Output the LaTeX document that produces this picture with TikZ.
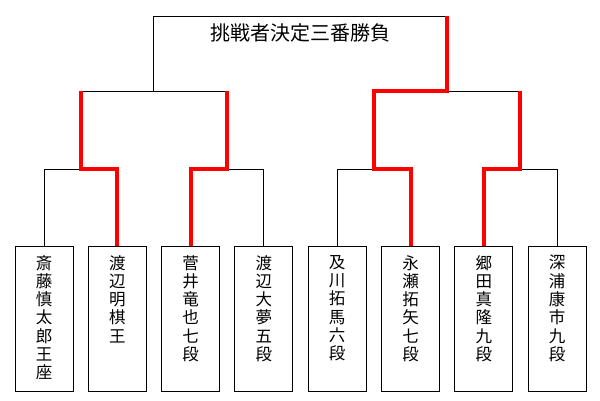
\documentclass[tikz,border=0pt]{standalone}
\usepackage{fontspec}
\setmainfont{Noto Sans CJK JP}
\usepackage{tikz}
\usetikzlibrary{positioning,calc}

\begin{document}
\begin{tikzpicture}[x=1pt, y=1pt,
player/.style={draw, line width=1pt, minimum width=58pt, minimum height=145pt, inner sep=0pt, anchor=north},
namecol/.style={anchor=north, align=center, inner sep=0pt, yshift=-9pt, font=\fontsize{16.5pt}{18.3pt}\selectfont},
bracket/.style={draw=black, line width=1pt},
win/.style={draw=red, line width=4pt}
]
\useasboundingbox (0,0) rectangle (600,-400);
\node[font=\fontsize{20pt}{22pt}\selectfont] (final) at (300,-33) {挑戦者決定三番勝負};
\node[player, label={[namecol]north:{斎\\藤\\慎\\太\\郎\\王\\座}}] (saito) at (44,-246) {};
\node[player, right=14.3pt of saito, label={[namecol]north:{渡\\辺\\明\\棋\\王}}] (akira) {};
\node[player, right=14.3pt of akira, label={[namecol]north:{菅\\井\\竜\\也\\七\\段}}] (sugai) {};
\node[player, right=14.3pt of sugai, label={[namecol]north:{渡\\辺\\大\\夢\\五\\段}}] (daimu) {};
\node[player, right=14.3pt of daimu, label={[namecol]north:{及\\川\\拓\\馬\\六\\段}}] (oikawa) {};
\node[player, right=14.3pt of oikawa, label={[namecol]north:{永\\瀬\\拓\\矢\\七\\段}}] (nagase) {};
\node[player, right=14.3pt of nagase, label={[namecol]north:{郷\\田\\真\\隆\\九\\段}}] (gouda) {};
\node[player, right=14.3pt of gouda, label={[namecol]north:{深\\浦\\康\\市\\九\\段}}] (fukaura) {};
% joints of the bracket
\coordinate (q1) at ($(saito.north)!0.5!(akira.north)+(0,77)$);
\coordinate (q2) at ($(sugai.north)!0.5!(daimu.north)+(0,77)$);
\coordinate (q3) at ($(oikawa.north)!0.5!(nagase.north)+(0,77)$);
\coordinate (q4) at ($(gouda.north)!0.5!(fukaura.north)+(0,77)$);
\coordinate (s1) at ($(q1)!0.5!(q2)+(0,78)$);
\coordinate (s2) at ($(q3)!0.5!(q4)+(0,78)$);
\coordinate (top) at ($(s1)!0.5!(s2)+(0,75)$);
% losers' lines
\draw[bracket] (saito.north) |- (q1);
\draw[bracket] (daimu.north) |- (q2);
\draw[bracket] (oikawa.north) |- (q3);
\draw[bracket] (fukaura.north) |- (q4);
\draw[bracket] (q1 |- s1) -- (q2 |- s1);
\draw[bracket] (s2) -- (q4 |- s2);
\draw[bracket] (s1) |- (s2 |- top);
% winners' lines
\draw[win] (akira.north) |- (q1) -- (q1 |- s1);
\draw[win] (sugai.north) |- (q2) -- (q2 |- s1);
\draw[win] (nagase.north) |- (q3) |- (s2) -- (s2 |- top);
\draw[win] (gouda.north) |- (q4) -- (q4 |- s2);
\end{tikzpicture}
\end{document}
